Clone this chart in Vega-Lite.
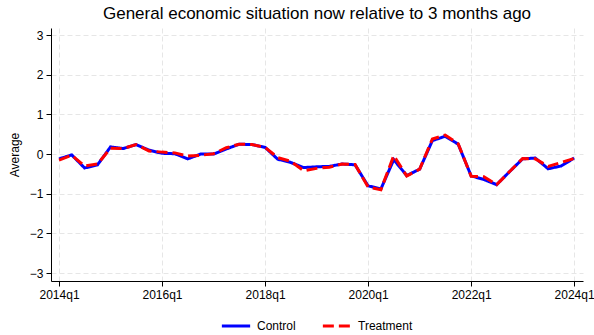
{
  "$schema": "https://vega.github.io/schema/vega-lite/v6.json",
  "width": 532,
  "height": 253,
  "autosize": {"type": "none"},
  "padding": {"left": 51, "top": 28, "right": 11, "bottom": 54},
  "background": "white",
  "title": {
    "text": "General economic situation now relative to 3 months ago",
    "fontSize": 17,
    "fontWeight": "normal",
    "font": "Liberation Sans",
    "color": "black",
    "anchor": "middle",
    "offset": 5
  },
  "config": {
    "font": "Liberation Sans",
    "view": {"stroke": null},
    "axis": {
      "domainColor": "black",
      "domainWidth": 1,
      "tickColor": "black",
      "tickSize": 5,
      "labelColor": "black",
      "labelFontSize": 12,
      "labelFont": "Liberation Sans",
      "titleColor": "black",
      "titleFont": "Liberation Sans",
      "titleFontSize": 12,
      "titleFontWeight": "normal",
      "gridColor": "#e6e6e6",
      "gridDash": [5, 3],
      "gridWidth": 1
    },
    "legend": {
      "labelFont": "Liberation Sans",
      "labelFontSize": 12,
      "labelColor": "black"
    }
  },
  "data": {
    "values": [
      {"date": "2014-01-01", "group": "Control", "value": -0.12},
      {"date": "2014-04-01", "group": "Control", "value": -0.02},
      {"date": "2014-07-01", "group": "Control", "value": -0.35},
      {"date": "2014-10-01", "group": "Control", "value": -0.27},
      {"date": "2015-01-01", "group": "Control", "value": 0.18},
      {"date": "2015-04-01", "group": "Control", "value": 0.14},
      {"date": "2015-07-01", "group": "Control", "value": 0.24},
      {"date": "2015-10-01", "group": "Control", "value": 0.10},
      {"date": "2016-01-01", "group": "Control", "value": 0.02},
      {"date": "2016-04-01", "group": "Control", "value": 0.01},
      {"date": "2016-07-01", "group": "Control", "value": -0.12},
      {"date": "2016-10-01", "group": "Control", "value": 0.00},
      {"date": "2017-01-01", "group": "Control", "value": 0.00},
      {"date": "2017-04-01", "group": "Control", "value": 0.13},
      {"date": "2017-07-01", "group": "Control", "value": 0.25},
      {"date": "2017-10-01", "group": "Control", "value": 0.24},
      {"date": "2018-01-01", "group": "Control", "value": 0.17},
      {"date": "2018-04-01", "group": "Control", "value": -0.13},
      {"date": "2018-07-01", "group": "Control", "value": -0.21},
      {"date": "2018-10-01", "group": "Control", "value": -0.34},
      {"date": "2019-01-01", "group": "Control", "value": -0.32},
      {"date": "2019-04-01", "group": "Control", "value": -0.31},
      {"date": "2019-07-01", "group": "Control", "value": -0.25},
      {"date": "2019-10-01", "group": "Control", "value": -0.27},
      {"date": "2020-01-01", "group": "Control", "value": -0.80},
      {"date": "2020-04-01", "group": "Control", "value": -0.88},
      {"date": "2020-07-01", "group": "Control", "value": -0.14},
      {"date": "2020-10-01", "group": "Control", "value": -0.54},
      {"date": "2021-01-01", "group": "Control", "value": -0.38},
      {"date": "2021-04-01", "group": "Control", "value": 0.34},
      {"date": "2021-07-01", "group": "Control", "value": 0.45},
      {"date": "2021-10-01", "group": "Control", "value": 0.25},
      {"date": "2022-01-01", "group": "Control", "value": -0.55},
      {"date": "2022-04-01", "group": "Control", "value": -0.64},
      {"date": "2022-07-01", "group": "Control", "value": -0.77},
      {"date": "2022-10-01", "group": "Control", "value": -0.44},
      {"date": "2023-01-01", "group": "Control", "value": -0.12},
      {"date": "2023-04-01", "group": "Control", "value": -0.10},
      {"date": "2023-07-01", "group": "Control", "value": -0.37},
      {"date": "2023-10-01", "group": "Control", "value": -0.30},
      {"date": "2024-01-01", "group": "Control", "value": -0.10},
      {"date": "2014-01-01", "group": "Treatment", "value": -0.15},
      {"date": "2014-04-01", "group": "Treatment", "value": -0.03},
      {"date": "2014-07-01", "group": "Treatment", "value": -0.30},
      {"date": "2014-10-01", "group": "Treatment", "value": -0.25},
      {"date": "2015-01-01", "group": "Treatment", "value": 0.15},
      {"date": "2015-04-01", "group": "Treatment", "value": 0.14},
      {"date": "2015-07-01", "group": "Treatment", "value": 0.24},
      {"date": "2015-10-01", "group": "Treatment", "value": 0.08},
      {"date": "2016-01-01", "group": "Treatment", "value": 0.05},
      {"date": "2016-04-01", "group": "Treatment", "value": 0.03},
      {"date": "2016-07-01", "group": "Treatment", "value": -0.05},
      {"date": "2016-10-01", "group": "Treatment", "value": -0.03},
      {"date": "2017-01-01", "group": "Treatment", "value": 0.01},
      {"date": "2017-04-01", "group": "Treatment", "value": 0.16},
      {"date": "2017-07-01", "group": "Treatment", "value": 0.25},
      {"date": "2017-10-01", "group": "Treatment", "value": 0.24},
      {"date": "2018-01-01", "group": "Treatment", "value": 0.17},
      {"date": "2018-04-01", "group": "Treatment", "value": -0.09},
      {"date": "2018-07-01", "group": "Treatment", "value": -0.18},
      {"date": "2018-10-01", "group": "Treatment", "value": -0.42},
      {"date": "2019-01-01", "group": "Treatment", "value": -0.36},
      {"date": "2019-04-01", "group": "Treatment", "value": -0.33},
      {"date": "2019-07-01", "group": "Treatment", "value": -0.25},
      {"date": "2019-10-01", "group": "Treatment", "value": -0.26},
      {"date": "2020-01-01", "group": "Treatment", "value": -0.83},
      {"date": "2020-04-01", "group": "Treatment", "value": -0.90},
      {"date": "2020-07-01", "group": "Treatment", "value": -0.04},
      {"date": "2020-10-01", "group": "Treatment", "value": -0.55},
      {"date": "2021-01-01", "group": "Treatment", "value": -0.38},
      {"date": "2021-04-01", "group": "Treatment", "value": 0.38},
      {"date": "2021-07-01", "group": "Treatment", "value": 0.48},
      {"date": "2021-10-01", "group": "Treatment", "value": 0.26},
      {"date": "2022-01-01", "group": "Treatment", "value": -0.56},
      {"date": "2022-04-01", "group": "Treatment", "value": -0.57},
      {"date": "2022-07-01", "group": "Treatment", "value": -0.77},
      {"date": "2022-10-01", "group": "Treatment", "value": -0.44},
      {"date": "2023-01-01", "group": "Treatment", "value": -0.11},
      {"date": "2023-04-01", "group": "Treatment", "value": -0.12},
      {"date": "2023-07-01", "group": "Treatment", "value": -0.31},
      {"date": "2023-10-01", "group": "Treatment", "value": -0.21},
      {"date": "2024-01-01", "group": "Treatment", "value": -0.11}
    ]
  },
  "mark": {"type": "line", "strokeWidth": 3, "strokeCap": "butt"},
  "encoding": {
    "x": {
      "field": "date",
      "type": "temporal",
      "scale": {
        "type": "utc",
        "domain": [
          {"year": 2013, "month": 11, "date": 5, "utc": true},
          {"year": 2024, "month": 3, "date": 4, "utc": true}
        ],
        "nice": false
      },
      "axis": {
        "title": null,
        "values": [
          {"year": 2014, "month": 1, "date": 1, "utc": true},
          {"year": 2016, "month": 1, "date": 1, "utc": true},
          {"year": 2018, "month": 1, "date": 1, "utc": true},
          {"year": 2020, "month": 1, "date": 1, "utc": true},
          {"year": 2022, "month": 1, "date": 1, "utc": true},
          {"year": 2024, "month": 1, "date": 1, "utc": true}
        ],
        "labelExpr": "utcFormat(datum.value, '%Y') + 'q1'",
        "labelPadding": 3,
        "labelFlush": false,
        "labelOverlap": false,
        "grid": true
      }
    },
    "y": {
      "field": "value",
      "type": "quantitative",
      "scale": {"domain": [-3.2, 3.18], "nice": false, "zero": false},
      "axis": {
        "title": "Average",
        "values": [-3, -2, -1, 0, 1, 2, 3],
        "labelPadding": 3,
        "titlePadding": 8,
        "grid": true
      }
    },
    "color": {
      "field": "group",
      "type": "nominal",
      "scale": {"domain": ["Control", "Treatment"], "range": ["#0000ff", "#ff0000"]},
      "legend": {
        "title": null,
        "orient": "none",
        "direction": "horizontal",
        "legendX": 169,
        "legendY": 282,
        "symbolType": "stroke",
        "symbolSize": 800,
        "symbolStrokeWidth": 3,
        "labelOffset": 5,
        "columnPadding": 20,
        "padding": 0
      }
    },
    "strokeDash": {
      "field": "group",
      "type": "nominal",
      "scale": {"domain": ["Control", "Treatment"], "range": [[1, 0], [11, 5]]},
      "legend": {
        "title": null,
        "orient": "none",
        "direction": "horizontal",
        "legendX": 169,
        "legendY": 282,
        "symbolType": "stroke",
        "symbolSize": 800,
        "symbolStrokeWidth": 3,
        "labelOffset": 5,
        "columnPadding": 20,
        "padding": 0
      }
    }
  }
}
